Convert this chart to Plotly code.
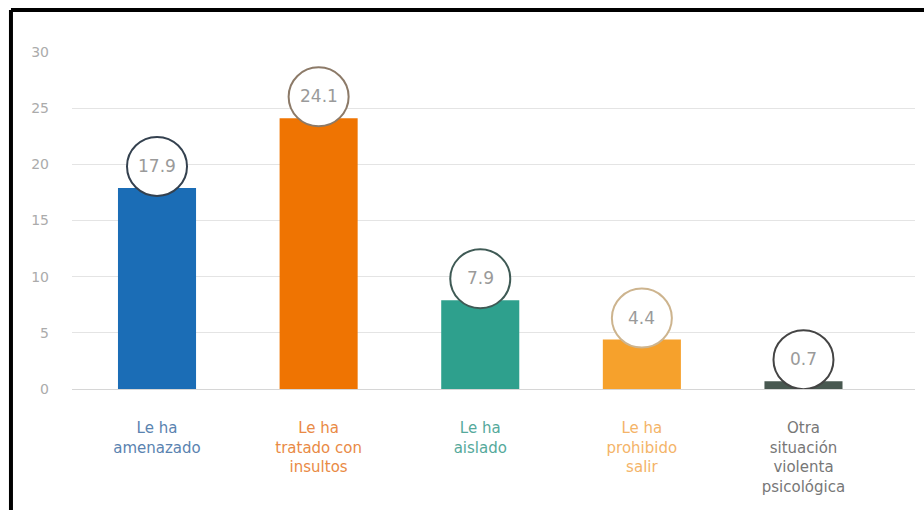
import plotly.graph_objects as go

# Data
categories = [
    "Le ha amenazado",
    "Le ha tratado con insultos",
    "Le ha aislado",
    "Le ha prohibido salir",
    "Otra situación violenta psicológica",
]
tick_labels = [
    "Le ha<br>amenazado",
    "Le ha<br>tratado con<br>insultos",
    "Le ha<br>aislado",
    "Le ha<br>prohibido<br>salir",
    "Otra<br>situación<br>violenta<br>psicológica",
]
values = [17.9, 24.1, 7.9, 4.4, 0.7]
y_ticks = [0, 5, 10, 15, 20, 25, 30]

bar_colors = ["#1b6db6", "#ef7402", "#2ea08d", "#f6a12c", "#485850"]
label_colors = ["#5a83b0", "#e98a45", "#55a99b", "#f4b468", "#777777"]
ring_colors = ["#34414f", "#8c7a68", "#3f5a55", "#cdb48e", "#444444"]

FONT = "DejaVu Sans"

fig = go.Figure()
fig.add_trace(go.Bar(
    x=categories,
    y=values,
    marker=dict(color=bar_colors, line=dict(width=0)),
    width=0.483,
    hoverinfo="skip",
))

shapes = []
annotations = []
for i, (cat, v) in enumerate(zip(categories, values)):
    # white value bubble sitting on top of each bar
    shapes.append(dict(
        type="circle", xref="x", yref="y",
        xsizemode="pixel", ysizemode="pixel",
        xanchor=i, yanchor=v,
        x0=-30, x1=30, y0=-8, y1=51,
        fillcolor="white",
        line=dict(color=ring_colors[i], width=2),
        layer="above",
    ))
    annotations.append(dict(
        x=cat, y=v, xref="x", yref="y",
        text=f"{v:.1f}", showarrow=False,
        yshift=22, yanchor="middle",
        font=dict(family=FONT, size=17, color="#9a9a9a"),
    ))

# picture frame lines (top and left)
shapes.append(dict(type="line", xref="paper", yref="paper",
                   x0=-0.0724, x1=1.02, y0=1.1246, y1=1.1246,
                   line=dict(color="black", width=4), layer="above"))
shapes.append(dict(type="line", xref="paper", yref="paper",
                   x0=-0.0724, x1=-0.0724, y0=1.1246, y1=-0.40,
                   line=dict(color="black", width=4), layer="above"))

fig.update_layout(
    width=924, height=510,
    margin=dict(l=72, r=9, t=52, b=121),
    paper_bgcolor="white",
    plot_bgcolor="white",
    showlegend=False,
    bargap=0.5,
    shapes=shapes,
    annotations=annotations,
    xaxis=dict(
        type="category",
        range=[-0.526, 4.69],
        tickvals=categories,
        ticktext=[f"<span style='color:{c}'>{t}</span>" for c, t in zip(label_colors, tick_labels)],
        tickfont=dict(family=FONT, size=15, color="#777"),
        ticks="",
        ticklabelstandoff=28,
        showgrid=False,
        showline=False,
        zeroline=False,
    ),
    yaxis=dict(
        range=[0, 30],
        tickvals=y_ticks,
        tickfont=dict(family=FONT, size=14, color="#ababab"),
        ticklabelstandoff=22,
        showgrid=True,
        gridcolor="#e4e4e4",
        gridwidth=1,
        zeroline=True,
        zerolinecolor="#d6d6d6",
        zerolinewidth=1,
        showline=False,
    ),
)

fig.write_html("out.html")
